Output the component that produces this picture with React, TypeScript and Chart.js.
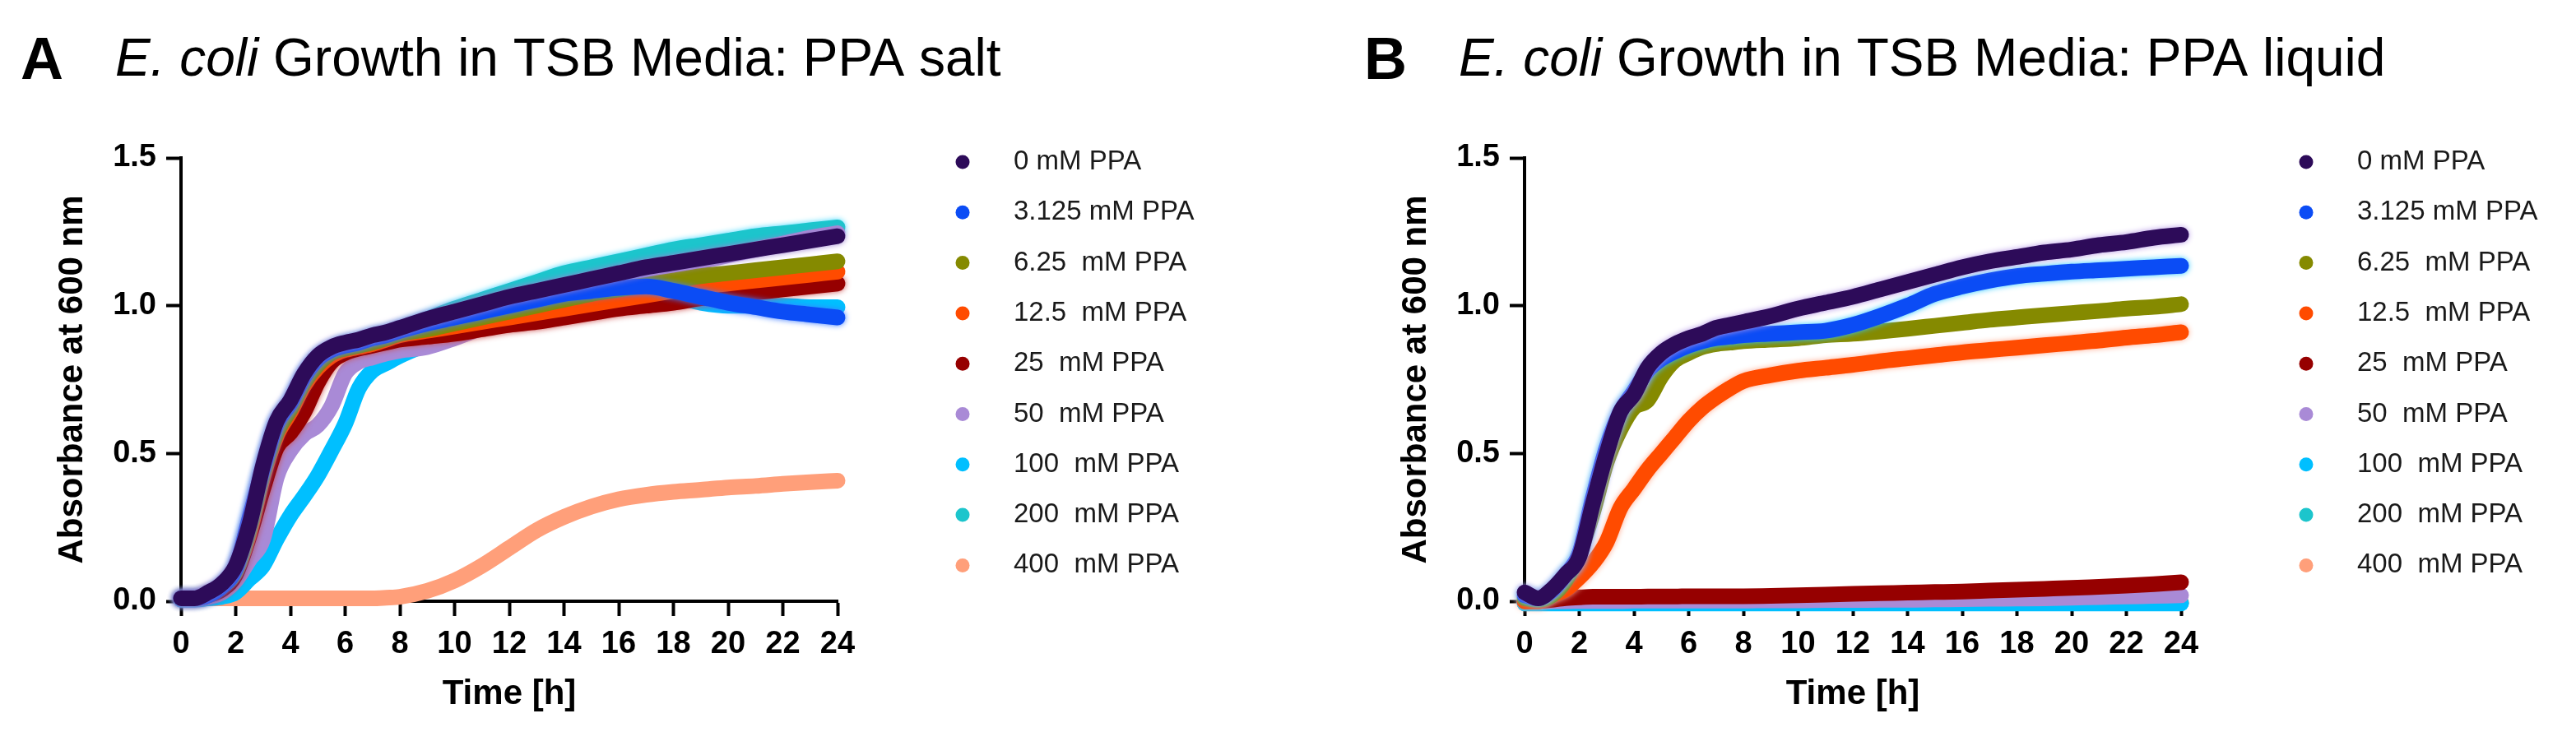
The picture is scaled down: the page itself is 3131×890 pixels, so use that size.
import Chart from "chart.js/auto";
import { useEffect, useRef } from "react";

// sampling times [h]: 0.5 h steps through the growth phase, then hourly
const hours = [
  0, 0.5, 1, 1.5, 2, 2.5, 3, 3.5, 4, 4.5, 5, 5.5, 6, 6.5, 7, 7.5, 8,
  9, 10, 11, 12, 13, 14, 15, 16, 17, 18, 19, 20, 21, 22, 23, 24,
];

const doseLabels = [
  "0 mM PPA",
  "3.125 mM PPA",
  "6.25  mM PPA",
  "12.5  mM PPA",
  "25  mM PPA",
  "50  mM PPA",
  "100  mM PPA",
  "200  mM PPA",
  "400  mM PPA",
];

const doseColors = [
  "#2d0b59",
  "#0b4cf5",
  "#858a00",
  "#ff4b00",
  "#960000",
  "#a98ad6",
  "#00bfff",
  "#1cc5cc",
  "#ff9f7a",
];

// light halo standing in for the SEM error bars ("" = none)
const saltHalo = ["#9b7fd0", "#3d7bff", "", "", "#cc5050", "", "", "#40d8ff", ""];
const liquidHalo = ["#b497e6", "#30c8ff", "", "#ffab90", "", "", "", "", ""];

// Panel A: PPA salt (absorbance at 600 nm)
const salt0 = [0.01, 0.01, 0.03, 0.06, 0.12, 0.26, 0.46, 0.61, 0.68, 0.77, 0.83, 0.86, 0.875, 0.885, 0.9, 0.91, 0.925, 0.955, 0.98, 1.005, 1.03, 1.05, 1.07, 1.09, 1.11, 1.13, 1.145, 1.16, 1.175, 1.19, 1.205, 1.22, 1.235];
const salt3125 = [0.01, 0.01, 0.02, 0.05, 0.11, 0.28, 0.45, 0.6, 0.67, 0.76, 0.82, 0.85, 0.865, 0.875, 0.89, 0.9, 0.915, 0.94, 0.96, 0.98, 1.0, 1.02, 1.04, 1.05, 1.06, 1.065, 1.05, 1.03, 1.01, 0.995, 0.98, 0.97, 0.96];
const salt625 = [0.01, 0.01, 0.02, 0.05, 0.1, 0.24, 0.43, 0.57, 0.65, 0.74, 0.8, 0.84, 0.855, 0.865, 0.875, 0.89, 0.905, 0.92, 0.94, 0.96, 0.98, 1.0, 1.02, 1.04, 1.055, 1.07, 1.085, 1.1, 1.11, 1.12, 1.13, 1.14, 1.15];
const salt125 = [0.01, 0.01, 0.02, 0.05, 0.1, 0.23, 0.42, 0.56, 0.64, 0.73, 0.79, 0.83, 0.85, 0.86, 0.87, 0.885, 0.9, 0.915, 0.93, 0.945, 0.96, 0.975, 0.99, 1.005, 1.02, 1.035, 1.05, 1.065, 1.075, 1.085, 1.095, 1.105, 1.115];
const salt25 = [0.01, 0.01, 0.02, 0.04, 0.09, 0.22, 0.38, 0.52, 0.57, 0.64, 0.74, 0.81, 0.84, 0.855, 0.865, 0.875, 0.885, 0.895, 0.905, 0.92, 0.935, 0.945, 0.96, 0.975, 0.99, 1.0, 1.01, 1.025, 1.035, 1.045, 1.055, 1.065, 1.075];
const salt50 = [0.01, 0.01, 0.015, 0.03, 0.07, 0.14, 0.21, 0.42, 0.51, 0.565, 0.595, 0.66, 0.77, 0.81, 0.825, 0.838, 0.848, 0.86, 0.89, 0.925, 0.96, 0.995, 1.03, 1.055, 1.08, 1.105, 1.13, 1.15, 1.17, 1.19, 1.21, 1.23, 1.245];
const salt100 = [0.005, 0.005, 0.01, 0.015, 0.03, 0.075, 0.12, 0.21, 0.29, 0.355, 0.425, 0.51, 0.6, 0.72, 0.78, 0.805, 0.83, 0.87, 0.91, 0.94, 0.97, 0.99, 1.01, 1.02, 1.03, 1.035, 1.03, 1.01, 1.0, 1.0, 1.0, 0.995, 0.995];
const salt200 = [0.01, 0.01, 0.02, 0.05, 0.11, 0.26, 0.45, 0.6, 0.67, 0.76, 0.82, 0.85, 0.87, 0.88, 0.895, 0.905, 0.92, 0.955, 0.99, 1.02, 1.05, 1.08, 1.11, 1.13, 1.15, 1.17, 1.19, 1.205, 1.22, 1.235, 1.245, 1.255, 1.265];
const salt400 = [0.01, 0.01, 0.01, 0.01, 0.01, 0.01, 0.01, 0.01, 0.01, 0.01, 0.01, 0.01, 0.01, 0.01, 0.01, 0.012, 0.015, 0.035, 0.07, 0.12, 0.18, 0.24, 0.285, 0.32, 0.345, 0.36, 0.37, 0.377, 0.385, 0.39, 0.397, 0.403, 0.408];

// Panel B: PPA liquid
const liquid0 = [0.03, 0.01, 0.04, 0.09, 0.15, 0.33, 0.5, 0.64, 0.7, 0.79, 0.84, 0.87, 0.89, 0.905, 0.925, 0.935, 0.945, 0.965, 0.99, 1.01, 1.03, 1.055, 1.08, 1.105, 1.13, 1.15, 1.165, 1.18, 1.19, 1.205, 1.215, 1.23, 1.24];
const liquid3125 = [0.02, 0.01, 0.035, 0.09, 0.16, 0.35, 0.52, 0.64, 0.71, 0.78, 0.82, 0.845, 0.865, 0.88, 0.89, 0.895, 0.9, 0.905, 0.91, 0.915, 0.935, 0.965, 1.0, 1.04, 1.065, 1.085, 1.1, 1.108, 1.115, 1.12, 1.125, 1.13, 1.135];
const liquid625 = [0.01, 0.005, 0.02, 0.07, 0.16, 0.3, 0.47, 0.58, 0.655, 0.68, 0.76, 0.815, 0.84, 0.86, 0.87, 0.875, 0.88, 0.885, 0.89, 0.9, 0.905, 0.913, 0.922, 0.932, 0.942, 0.952, 0.96, 0.968, 0.975, 0.982, 0.99, 0.996, 1.005];
const liquid125 = [0, 0, 0.02, 0.04, 0.08, 0.13, 0.2, 0.315, 0.38, 0.445, 0.5, 0.555, 0.61, 0.655, 0.69, 0.72, 0.745, 0.765, 0.78, 0.79, 0.8, 0.812, 0.822, 0.832, 0.842, 0.85, 0.858, 0.866, 0.874, 0.882, 0.892, 0.9, 0.91];
const liquid25 = [0, 0, 0.005, 0.01, 0.013, 0.015, 0.015, 0.015, 0.015, 0.016, 0.016, 0.016, 0.017, 0.017, 0.017, 0.017, 0.017, 0.018, 0.02, 0.022, 0.025, 0.027, 0.029, 0.031, 0.033, 0.036, 0.039, 0.042, 0.045, 0.049, 0.053, 0.058, 0.064];
const liquid50 = [0, 0, 0, 0, 0.001, 0.001, 0.001, 0.001, 0.002, 0.002, 0.002, 0.002, 0.002, 0.002, 0.002, 0.002, 0.002, 0.003, 0.003, 0.004, 0.004, 0.005, 0.005, 0.006, 0.007, 0.008, 0.009, 0.01, 0.012, 0.014, 0.016, 0.018, 0.02];
const liquid100 = [-0.008, -0.008, -0.008, -0.008, -0.008, -0.008, -0.008, -0.008, -0.008, -0.008, -0.008, -0.008, -0.008, -0.008, -0.008, -0.008, -0.008, -0.008, -0.008, -0.008, -0.008, -0.008, -0.008, -0.008, -0.008, -0.008, -0.008, -0.008, -0.008, -0.008, -0.008, -0.008, -0.008];
const liquid200 = [-0.006, -0.006, -0.006, -0.006, -0.006, -0.006, -0.006, -0.006, -0.006, -0.006, -0.006, -0.006, -0.006, -0.006, -0.006, -0.006, -0.006, -0.006, -0.006, -0.006, -0.006, -0.006, -0.006, -0.006, -0.006, -0.006, -0.006, -0.006, -0.006, -0.006, -0.006, -0.006, -0.006];
const liquid400 = [-0.004, -0.004, -0.004, -0.004, -0.004, -0.004, -0.004, -0.004, -0.004, -0.004, -0.004, -0.004, -0.004, -0.004, -0.004, -0.004, -0.004, -0.004, -0.004, -0.004, -0.004, -0.004, -0.004, -0.004, -0.004, -0.004, -0.004, -0.004, -0.004, -0.004, -0.004, -0.004, -0.004];

const saltSeries = [salt0, salt3125, salt625, salt125, salt25, salt50, salt100, salt200, salt400];
const liquidSeries = [liquid0, liquid3125, liquid625, liquid125, liquid25, liquid50, liquid100, liquid200, liquid400];

const FONT = "'Liberation Sans', Arial, Helvetica, sans-serif";
const HEIGHT = 890;
const PLOT_RIGHT = 1018;

// "A  E. coli Growth in ..." heading, drawn on the canvas
const panelTitle = {
  id: "panelTitle",
  afterDraw(chart: Chart, _args: unknown, opts: { letter: string; text: string }) {
    const { ctx } = chart;
    ctx.save();
    ctx.fillStyle = "#000";
    ctx.textBaseline = "alphabetic";
    ctx.font = `bold 72px ${FONT}`;
    ctx.fillText(opts.letter, 25, 96);
    let x = 140;
    ctx.font = `italic 64px ${FONT}`;
    ctx.fillText("E. coli", x, 92);
    x += ctx.measureText("E. coli").width;
    ctx.font = `64px ${FONT}`;
    ctx.fillText(" " + opts.text, x, 92);
    ctx.restore();
  },
};

// soft halo under some series, like the error bars in the original
const errorHalo = {
  id: "errorHalo",
  beforeDatasetDraw(chart: Chart, args: { index: number }, opts: { colors: string[] }) {
    const { ctx } = chart;
    ctx.save();
    const c = opts.colors?.[args.index];
    if (c) {
      ctx.shadowColor = c;
      ctx.shadowBlur = 7;
    }
  },
  afterDatasetDraw(chart: Chart) {
    chart.ctx.restore();
  },
};

// Prism-like legend: dot + label, one per row
const dotLegend = {
  id: "dotLegend",
  afterDraw(chart: Chart) {
    const { ctx } = chart;
    ctx.save();
    ctx.font = `33px ${FONT}`;
    ctx.textBaseline = "middle";
    chart.data.datasets.forEach((ds, i) => {
      const y = 197 + i * 61.3;
      ctx.fillStyle = ds.borderColor as string;
      ctx.beginPath();
      ctx.arc(1170, y, 8.5, 0, Math.PI * 2);
      ctx.fill();
      ctx.fillStyle = "#1a1a1a";
      ctx.fillText(ds.label ?? "", 1232, y);
    });
    ctx.restore();
  },
};

type PanelProps = {
  letter: string;
  text: string;
  series: number[][];
  halo: string[];
  left: number;
  width: number;
};

const GrowthPanel: React.FC<PanelProps> = ({ letter, text, series, halo, left, width }) => {
  const canvasRef = useRef<HTMLCanvasElement | null>(null);

  useEffect(() => {
    if (!canvasRef.current) return;

    const tickFont = { family: FONT, size: 38, weight: "bold" as const };
    const titleFont = { family: FONT, size: 42, weight: "bold" as const };

    const chart = new Chart(canvasRef.current, {
      type: "line",
      data: {
        datasets: series.map((values, i) => ({
          label: doseLabels[i],
          data: values.map((v, j) => ({ x: hours[j], y: v })),
          borderColor: doseColors[i],
          backgroundColor: doseColors[i],
          borderWidth: 19,
          pointRadius: 0,
          cubicInterpolationMode: "monotone" as const,
          borderCapStyle: "round" as const,
          borderJoinStyle: "round" as const,
          fill: false,
          clip: false as const,
        })),
      },
      options: {
        animation: false,
        responsive: false,
        devicePixelRatio: 1,
        events: [],
        layout: { padding: { left: 0, top: 192, right: width - PLOT_RIGHT, bottom: 0 } },
        scales: {
          x: {
            type: "linear",
            min: 0,
            max: 24,
            afterFit: scale => {
              scale.height = HEIGHT - 731;
            },
            border: { color: "#000", width: 4 },
            grid: { drawOnChartArea: false, tickLength: 18, tickWidth: 4, tickColor: "#000" },
            ticks: { stepSize: 2, autoSkip: false, maxRotation: 0, color: "#000", font: tickFont, padding: 12 },
            title: { display: true, text: "Time [h]", color: "#000", font: titleFont, padding: { top: 0, bottom: 20 } },
          },
          y: {
            min: 0,
            max: 1.5,
            afterFit: scale => {
              scale.width = 220;
            },
            border: { color: "#000", width: 4 },
            grid: { drawOnChartArea: false, tickLength: 18, tickWidth: 4, tickColor: "#000" },
            ticks: {
              stepSize: 0.5,
              color: "#000",
              font: tickFont,
              padding: 12,
              callback: v => Number(v).toFixed(1),
            },
            title: {
              display: true,
              text: "Absorbance at 600 nm",
              color: "#000",
              font: titleFont,
              padding: { top: 63, bottom: 0 },
            },
          },
        },
        plugins: {
          legend: { display: false },
          tooltip: { enabled: false },
          panelTitle: { letter, text },
          errorHalo: { colors: halo },
        } as any,
      },
      plugins: [panelTitle as any, errorHalo as any, dotLegend],
    });

    return () => {
      chart.destroy();
    };
  }, [letter, text, series, halo, width]);

  return (
    <canvas
      ref={canvasRef}
      width={width}
      height={HEIGHT}
      style={{ position: "absolute", left, top: 0, width, height: HEIGHT }}
    />
  );
};

export default function App() {
  return (
    <div
      style={{
        position: "absolute",
        left: 0,
        top: 0,
        width: 3131,
        height: HEIGHT,
        background: "#fff",
        overflow: "hidden",
      }}
    >
      <GrowthPanel letter="A" text="Growth in TSB Media: PPA salt" series={saltSeries} halo={saltHalo} left={0} width={1633} />
      <GrowthPanel letter="B" text="Growth in TSB Media: PPA liquid" series={liquidSeries} halo={liquidHalo} left={1633} width={1498} />
    </div>
  );
}
